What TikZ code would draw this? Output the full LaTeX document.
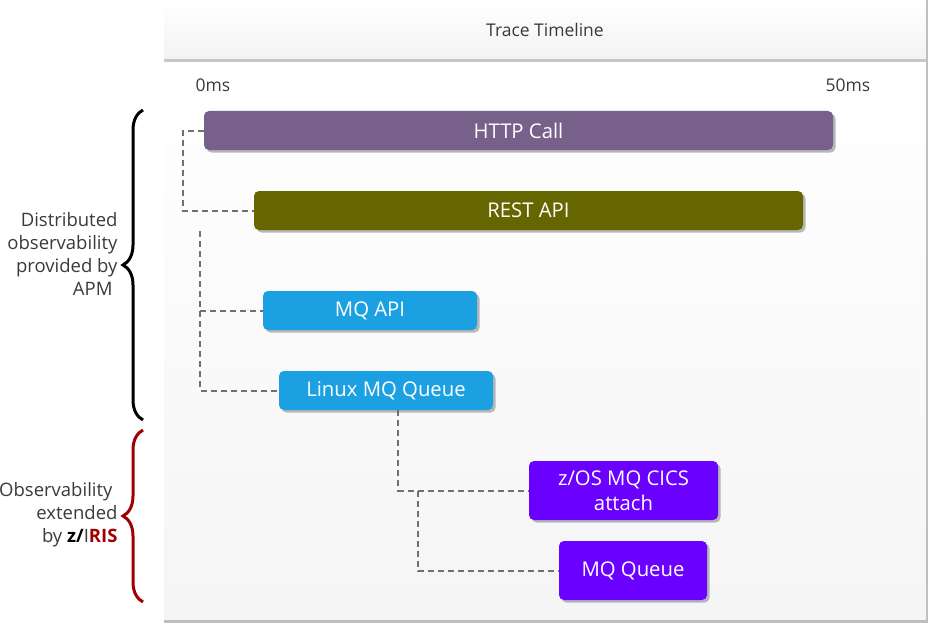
\documentclass[tikz,border=0pt]{standalone}
\usepackage{fontspec}
\setmainfont{Open Sans}
\usepackage{xcolor}
\usetikzlibrary{shadows,decorations.pathreplacing}

\definecolor{httpcol}{HTML}{77608A}
\definecolor{restcol}{HTML}{666600}
\definecolor{mqcol}{HTML}{1BA1E2}
\definecolor{zoscol}{HTML}{6A00FF}
\definecolor{txtcol}{HTML}{3A3A3A}
\definecolor{linkcol}{HTML}{707070}
\definecolor{iriscol}{HTML}{A00000}

\tikzset{
  bar/.style={rounded corners=5pt, text=white, inner sep=0pt, align=center,
    font=\fontsize{20.3}{25}\selectfont,
    drop shadow={shadow xshift=2.5pt, shadow yshift=-2.5pt, fill=black!35, opacity=0.8}},
  link/.style={draw=linkcol, line width=2pt, dash pattern=on 6pt off 4pt},
  side/.style={anchor=east, align=right, text=txtcol, font=\fontsize{18.5}{23}\selectfont},
  tick/.style={text=txtcol, font=\fontsize{17.5}{20}\selectfont},
  grp/.style={decorate, decoration={brace, amplitude=20pt, aspect=0.5}, line width=3pt}
}

\begin{document}
\begin{tikzpicture}[x=1pt, y=-1pt]

    \useasboundingbox (0, 0) rectangle (930, 626);

    % panel
    \shade [top color=white, bottom color=black!4] (164, 61) rectangle (927, 621);
    \shade [top color=white, bottom color=black!5] (164, 0) rectangle (927, 61);
    \draw [black!22, line width=3pt] (164, 61) -- (927, 61);
    \draw [black!25, line width=1.5pt] (927, 0) -- (927, 621);
    \draw [black!25, line width=3pt] (164, 621) -- (927.75, 621);

    \node [tick] (title) at (545, 30) {Trace Timeline};
    \node [tick] (t0) at (213, 85) {0ms};
    \node [tick] (t50) at (848, 85) {50ms};

    % spans
    \node [bar, fill=httpcol, minimum width=629, minimum height=39] (http) at (518.5, 130.5) {HTTP Call};
    \node [bar, fill=restcol, minimum width=549, minimum height=39] (rest) at (528.5, 210.5) {REST API};
    \node [bar, fill=mqcol, minimum width=214, minimum height=39] (mqapi) at (370, 310.5) {MQ API};
    \node [bar, fill=mqcol, minimum width=214, minimum height=39] (linux) at (386, 390.5) {Linux MQ Queue};
    \node [bar, fill=zoscol, minimum width=189, minimum height=59] (zos) at (623.5, 490.5) {z/OS MQ CICS\\attach};
    \node [bar, fill=zoscol, minimum width=148, minimum height=59] (mqq) at (633, 570.5) {MQ Queue};

    \coordinate (apm) at (200, 231);
    \coordinate (split) at (418, 490.5);

    \draw [link] (http.west) -- ++(-21, 0) |- (rest.west);
    \draw [link] (apm) |- (linux.west);
    \draw [link] (apm |- mqapi.west) -- (mqapi.west);
    \draw [link] ([xshift=12pt]linux.south) |- (zos.west);
    \draw [link] (split) |- (mqq.west);

    % groups
    \draw [grp, black] (143, 420) -- (143, 110);
    \draw [grp, iriscol] (143, 602) -- (143, 430);

    \node [side] (apmtxt) at (121, 254) {Distributed\\observability\\provided by\\APM\hspace*{5pt}};
    \node [side] (iristxt) at (121, 515) {Observability\hspace*{5pt}\\extended\hspace*{5pt}\\by {\color{black}\bfseries z/}I{\color{iriscol}\bfseries RIS}};

  \end{tikzpicture}
\end{document}
